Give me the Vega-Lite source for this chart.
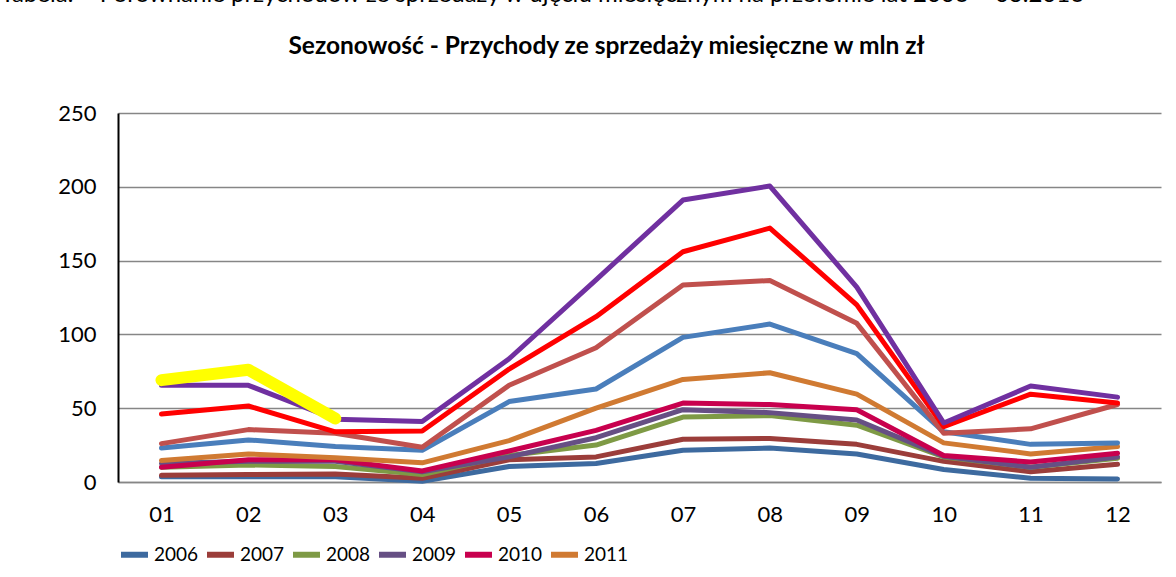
{
  "$schema": "https://vega.github.io/schema/vega-lite/v6.json",
  "autosize": {"type": "none"},
  "width": 1043,
  "height": 369,
  "padding": {"left": 118, "top": 113, "right": 15, "bottom": 95},
  "background": "white",
  "datasets": {
    "sales": [
      {"year": "2006", "month": "01", "value": 3.5}, {"year": "2006", "month": "02", "value": 3.5}, {"year": "2006", "month": "03", "value": 3.5}, {"year": "2006", "month": "04", "value": 0.5}, {"year": "2006", "month": "05", "value": 10.5}, {"year": "2006", "month": "06", "value": 12.5}, {"year": "2006", "month": "07", "value": 21.5}, {"year": "2006", "month": "08", "value": 23}, {"year": "2006", "month": "09", "value": 19}, {"year": "2006", "month": "10", "value": 8.5}, {"year": "2006", "month": "11", "value": 2.5}, {"year": "2006", "month": "12", "value": 2},
      {"year": "2007", "month": "01", "value": 4.5}, {"year": "2007", "month": "02", "value": 5}, {"year": "2007", "month": "03", "value": 5.5}, {"year": "2007", "month": "04", "value": 2.5}, {"year": "2007", "month": "05", "value": 15}, {"year": "2007", "month": "06", "value": 17}, {"year": "2007", "month": "07", "value": 29}, {"year": "2007", "month": "08", "value": 29.5}, {"year": "2007", "month": "09", "value": 25.5}, {"year": "2007", "month": "10", "value": 14}, {"year": "2007", "month": "11", "value": 7}, {"year": "2007", "month": "12", "value": 12},
      {"year": "2008", "month": "01", "value": 10}, {"year": "2008", "month": "02", "value": 11.5}, {"year": "2008", "month": "03", "value": 10.5}, {"year": "2008", "month": "04", "value": 5}, {"year": "2008", "month": "05", "value": 18}, {"year": "2008", "month": "06", "value": 25}, {"year": "2008", "month": "07", "value": 44}, {"year": "2008", "month": "08", "value": 45}, {"year": "2008", "month": "09", "value": 38.5}, {"year": "2008", "month": "10", "value": 17}, {"year": "2008", "month": "11", "value": 10}, {"year": "2008", "month": "12", "value": 16},
      {"year": "2009", "month": "01", "value": 12.5}, {"year": "2009", "month": "02", "value": 14}, {"year": "2009", "month": "03", "value": 14}, {"year": "2009", "month": "04", "value": 7}, {"year": "2009", "month": "05", "value": 17}, {"year": "2009", "month": "06", "value": 30}, {"year": "2009", "month": "07", "value": 49}, {"year": "2009", "month": "08", "value": 47}, {"year": "2009", "month": "09", "value": 42}, {"year": "2009", "month": "10", "value": 17.5}, {"year": "2009", "month": "11", "value": 10}, {"year": "2009", "month": "12", "value": 17},
      {"year": "2010", "month": "01", "value": 10}, {"year": "2010", "month": "02", "value": 15}, {"year": "2010", "month": "03", "value": 15}, {"year": "2010", "month": "04", "value": 7.5}, {"year": "2010", "month": "05", "value": 21}, {"year": "2010", "month": "06", "value": 35}, {"year": "2010", "month": "07", "value": 53.5}, {"year": "2010", "month": "08", "value": 52.5}, {"year": "2010", "month": "09", "value": 49}, {"year": "2010", "month": "10", "value": 18}, {"year": "2010", "month": "11", "value": 13.5}, {"year": "2010", "month": "12", "value": 19.5},
      {"year": "2011", "month": "01", "value": 14.5}, {"year": "2011", "month": "02", "value": 19}, {"year": "2011", "month": "03", "value": 16.5}, {"year": "2011", "month": "04", "value": 13}, {"year": "2011", "month": "05", "value": 28}, {"year": "2011", "month": "06", "value": 50}, {"year": "2011", "month": "07", "value": 69.5}, {"year": "2011", "month": "08", "value": 74}, {"year": "2011", "month": "09", "value": 59.5}, {"year": "2011", "month": "10", "value": 26.5}, {"year": "2011", "month": "11", "value": 19}, {"year": "2011", "month": "12", "value": 24},
      {"year": "2012", "month": "01", "value": 23}, {"year": "2012", "month": "02", "value": 28.5}, {"year": "2012", "month": "03", "value": 24}, {"year": "2012", "month": "04", "value": 21.5}, {"year": "2012", "month": "05", "value": 54.5}, {"year": "2012", "month": "06", "value": 63}, {"year": "2012", "month": "07", "value": 98}, {"year": "2012", "month": "08", "value": 107}, {"year": "2012", "month": "09", "value": 87}, {"year": "2012", "month": "10", "value": 34}, {"year": "2012", "month": "11", "value": 25.5}, {"year": "2012", "month": "12", "value": 26.5},
      {"year": "2013", "month": "01", "value": 26}, {"year": "2013", "month": "02", "value": 35.5}, {"year": "2013", "month": "03", "value": 33}, {"year": "2013", "month": "04", "value": 23.5}, {"year": "2013", "month": "05", "value": 65.5}, {"year": "2013", "month": "06", "value": 91}, {"year": "2013", "month": "07", "value": 133.5}, {"year": "2013", "month": "08", "value": 136.5}, {"year": "2013", "month": "09", "value": 107.5}, {"year": "2013", "month": "10", "value": 33}, {"year": "2013", "month": "11", "value": 36}, {"year": "2013", "month": "12", "value": 52.5},
      {"year": "2014", "month": "01", "value": 46}, {"year": "2014", "month": "02", "value": 51.5}, {"year": "2014", "month": "03", "value": 34}, {"year": "2014", "month": "04", "value": 34.5}, {"year": "2014", "month": "05", "value": 76.5}, {"year": "2014", "month": "06", "value": 112}, {"year": "2014", "month": "07", "value": 156}, {"year": "2014", "month": "08", "value": 172}, {"year": "2014", "month": "09", "value": 120}, {"year": "2014", "month": "10", "value": 37.5}, {"year": "2014", "month": "11", "value": 59.5}, {"year": "2014", "month": "12", "value": 53.5},
      {"year": "2015", "month": "01", "value": 65.5}, {"year": "2015", "month": "02", "value": 65.5}, {"year": "2015", "month": "03", "value": 42.5}, {"year": "2015", "month": "04", "value": 41}, {"year": "2015", "month": "05", "value": 83.5}, {"year": "2015", "month": "06", "value": 137}, {"year": "2015", "month": "07", "value": 191}, {"year": "2015", "month": "08", "value": 200.5}, {"year": "2015", "month": "09", "value": 132}, {"year": "2015", "month": "10", "value": 40}, {"year": "2015", "month": "11", "value": 65}, {"year": "2015", "month": "12", "value": 57.5},
      {"year": "2016", "month": "01", "value": 69}, {"year": "2016", "month": "02", "value": 76}, {"year": "2016", "month": "03", "value": 43}
    ]
  },
  "data": {"name": "sales"},
  "encoding": {
    "x": {
      "field": "month",
      "type": "ordinal",
      "scale": {"type": "point", "padding": 0.5},
      "axis": {
        "title": "Tabela: – Porównanie przychodów ze sprzedaży w ujęciu miesięcznym na przełomie lat 2006 – 03.2016",
        "titleFont": "Lato",
        "titleFontSize": 24,
        "titleFontWeight": "normal",
        "titleColor": "#000000",
        "titleAnchor": "start",
        "titleAlign": "left",
        "titleBaseline": "alphabetic",
        "titleX": -118,
        "titleY": -481,
        "titleLimit": 2000,
        "labelAngle": 0,
        "labelFont": "Lato",
        "labelFontSize": 22,
        "labelColor": "#000000",
        "labelPadding": 22,
        "ticks": false,
        "domainColor": "#868686",
        "domainWidth": 1.5,
        "grid": false
      }
    },
    "y": {
      "field": "value",
      "type": "quantitative",
      "scale": {"domain": [0, 250], "nice": false},
      "axis": {
        "values": [0, 50, 100, 150, 200, 250],
        "title": "Sezonowość  - Przychody ze sprzedaży miesięczne w mln  zł",
        "titleAngle": 0,
        "titleAlign": "center",
        "titleAnchor": "middle",
        "titleBaseline": "alphabetic",
        "titleX": 488,
        "titleY": -60,
        "titleLimit": 2000,
        "titleFont": "Lato",
        "titleFontSize": 24.5,
        "titleFontWeight": "bold",
        "titleColor": "#000000",
        "labelFont": "Lato",
        "labelFontSize": 22,
        "labelColor": "#000000",
        "labelPadding": 22,
        "ticks": false,
        "domainColor": "#000000",
        "domainWidth": 2,
        "grid": true,
        "gridColor": "#868686",
        "gridWidth": 1.5
      }
    },
    "color": {
      "field": "year",
      "type": "nominal",
      "scale": {
        "domain": ["2006", "2007", "2008", "2009", "2010", "2011", "2012", "2013", "2014", "2015", "2016"],
        "range": ["#3D6A9F", "#9B3D3A", "#7E9A45", "#664F84", "#C8004E", "#D07A32", "#4A7EBB", "#C0504D", "#FF0000", "#7030A0", "#FFFF00"]
      },
      "legend": {
        "values": ["2006", "2007", "2008", "2009", "2010", "2011"],
        "title": null,
        "orient": "none",
        "legendX": 0,
        "legendY": 425,
        "direction": "horizontal",
        "columns": 6,
        "gridAlign": "all",
        "columnPadding": -4,
        "padding": 0,
        "symbolType": "stroke",
        "symbolSize": 729,
        "symbolStrokeWidth": 6,
        "labelOffset": 3,
        "labelFont": "Lato",
        "labelFontSize": 19,
        "labelColor": "#000000"
      }
    },
    "order": {"field": "year"}
  },
  "layer": [
    {
      "transform": [{"filter": "datum.year != '2016'"}],
      "mark": {"type": "line", "strokeWidth": 5, "strokeCap": "round", "strokeJoin": "round"}
    },
    {
      "transform": [{"filter": "datum.year == '2016'"}],
      "mark": {"type": "line", "strokeWidth": 12, "strokeCap": "round", "strokeJoin": "round"}
    }
  ],
  "config": {"view": {"stroke": null}}
}
